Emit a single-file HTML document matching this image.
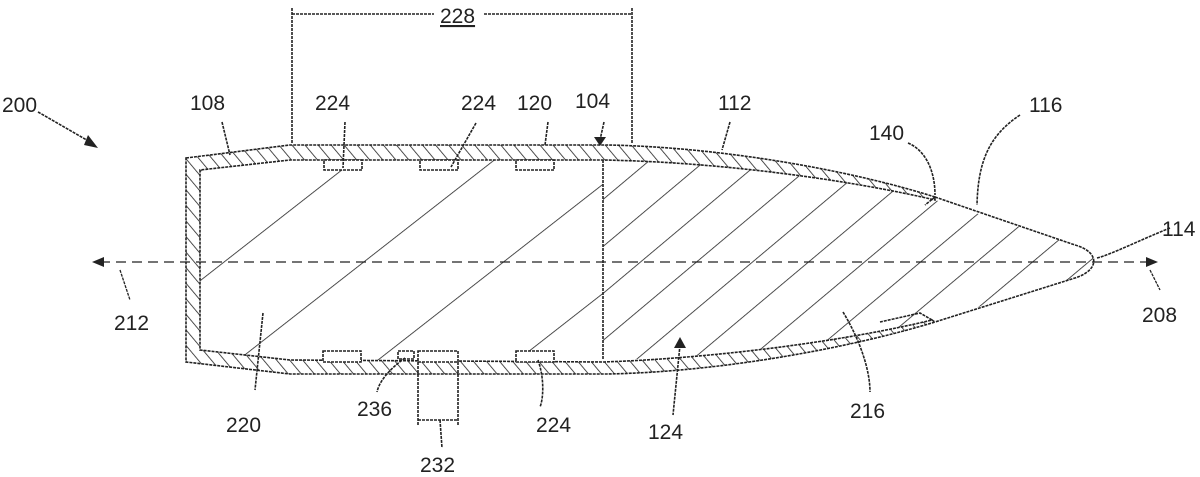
<!DOCTYPE html>
<html><head><meta charset="utf-8"><style>
html,body{margin:0;padding:0;background:#fff}
svg{display:block}
text{font-family:"Liberation Sans",sans-serif;font-size:21px;fill:#222}
</style></head><body>
<svg width="1200" height="477" viewBox="0 0 1200 477" xmlns="http://www.w3.org/2000/svg">
<defs>
<pattern id="jh" width="10" height="10" patternUnits="userSpaceOnUse" patternTransform="rotate(-40)">
<line x1="0" y1="0" x2="0" y2="10" stroke="#222" stroke-width="1.6"/>
</pattern>
<pattern id="lh" width="86" height="86" patternUnits="userSpaceOnUse" patternTransform="rotate(52)">
<line x1="0" y1="0" x2="0" y2="86" stroke="#222" stroke-width="1.6"/>
</pattern>
<pattern id="rh" width="36" height="36" patternUnits="userSpaceOnUse" patternTransform="rotate(50)">
<line x1="0" y1="0" x2="0" y2="36" stroke="#222" stroke-width="1.6"/>
</pattern>
<clipPath id="cl"><path d="M200,170 L290,160 L603,160 L603,360 L290,360 L200,350 Z"/></clipPath>
<clipPath id="cr"><path d="M603,160 C720,162 850,180 935,200 L1075,245 C1100,252 1100,270 1075,278 L935,320 C850,340 720,358 603,360 Z"/></clipPath>
</defs>
<g fill="none" stroke="#222" stroke-width="1.6" stroke-dasharray="3 1">
<path fill="url(#jh)" d="M186,158 L290,145 L607,145 C720,147 850,170 935,197 L935,200 C850,180 720,162 603,160 L290,160 L200,170 L200,350 L290,360 L603,362 C720,358 850,340 932,320 L935,322 C850,348 720,372 607,374 L290,374 L186,362 Z"/>
<rect x="195" y="150" width="420" height="220" fill="url(#lh)" clip-path="url(#cl)" stroke="none"/>
<rect x="600" y="150" width="510" height="220" fill="url(#rh)" clip-path="url(#cr)" stroke="none"/>
<path d="M603,160 L603,360"/>
<path d="M935,197 L1075,245 C1100,252 1100,270 1075,278 L935,322"/>
<path d="M935,197 L925,205 M932,320 L920,313 L880,322"/>
<g fill="#fff">
<rect x="324" y="160" width="38" height="10"/><rect x="420" y="160" width="38" height="10"/><rect x="516" y="160" width="38" height="10"/>
<rect x="323" y="351" width="38" height="11"/><rect x="418" y="351" width="40" height="11"/><rect x="516" y="351" width="38" height="11"/>
<rect x="398" y="351" width="16" height="8"/>
</g>
<path d="M292,143 L292,8 M632,143 L632,8 M292,14 L434,14 M484,14 L632,14"/>
<path d="M418,362 L418,425 M458,362 L458,425 M418,420 L458,420 M440,420 L442,448"/>
<path d="M38,112 L92,143"/>
<path d="M222,122 L230,155"/>
<path d="M345,122 L343,168"/>
<path d="M476,123 L451,167"/>
<path d="M548,122 L545,145"/>
<path d="M604,122 L600,140"/>
<path d="M730,122 L722,150"/>
<path d="M908,143 C925,150 935,170 935,195"/>
<path d="M1020,115 C990,135 978,160 977,205"/>
<path d="M1097,258 C1110,255 1140,240 1170,228"/>
<path d="M263,313 L255,390"/>
<path d="M405,358 C395,365 380,378 377,392"/>
<path d="M538,360 C545,380 543,400 540,407"/>
<path d="M680,345 L673,415"/>
<path d="M843,312 C860,340 870,370 870,392"/>
</g>
<g fill="#222">
<polygon points="98,148 88,135 84,145"/>
<polygon points="600,146 594,137 606,137"/>
<polygon points="680,337 674,348 686,348"/>
<polygon points="92,262 104,257 104,267"/>
<polygon points="1158,262 1146,257 1146,267"/>
</g>
<path d="M100,262 L1150,262" stroke="#222" stroke-width="1.3" stroke-dasharray="10 6" fill="none"/>
<path d="M120,270 L130,300 M1150,270 L1160,290" stroke="#222" stroke-width="1.3" stroke-dasharray="3 1" fill="none"/>
<text x="2" y="112">200</text>
<text x="190" y="110">108</text>
<text x="315" y="110">224</text>
<text x="461" y="110">224</text>
<text x="517" y="110">120</text>
<text x="575" y="108">104</text>
<text x="718" y="110">112</text>
<text x="869" y="140">140</text>
<text x="1029" y="112">116</text>
<text x="1162" y="236">114</text>
<text x="1142" y="322">208</text>
<text x="114" y="330">212</text>
<text x="226" y="432">220</text>
<text x="357" y="416">236</text>
<text x="420" y="472">232</text>
<text x="536" y="432">224</text>
<text x="648" y="439">124</text>
<text x="850" y="418">216</text>
<text x="440" y="23" text-decoration="underline">228</text>
</svg>
</body></html>
